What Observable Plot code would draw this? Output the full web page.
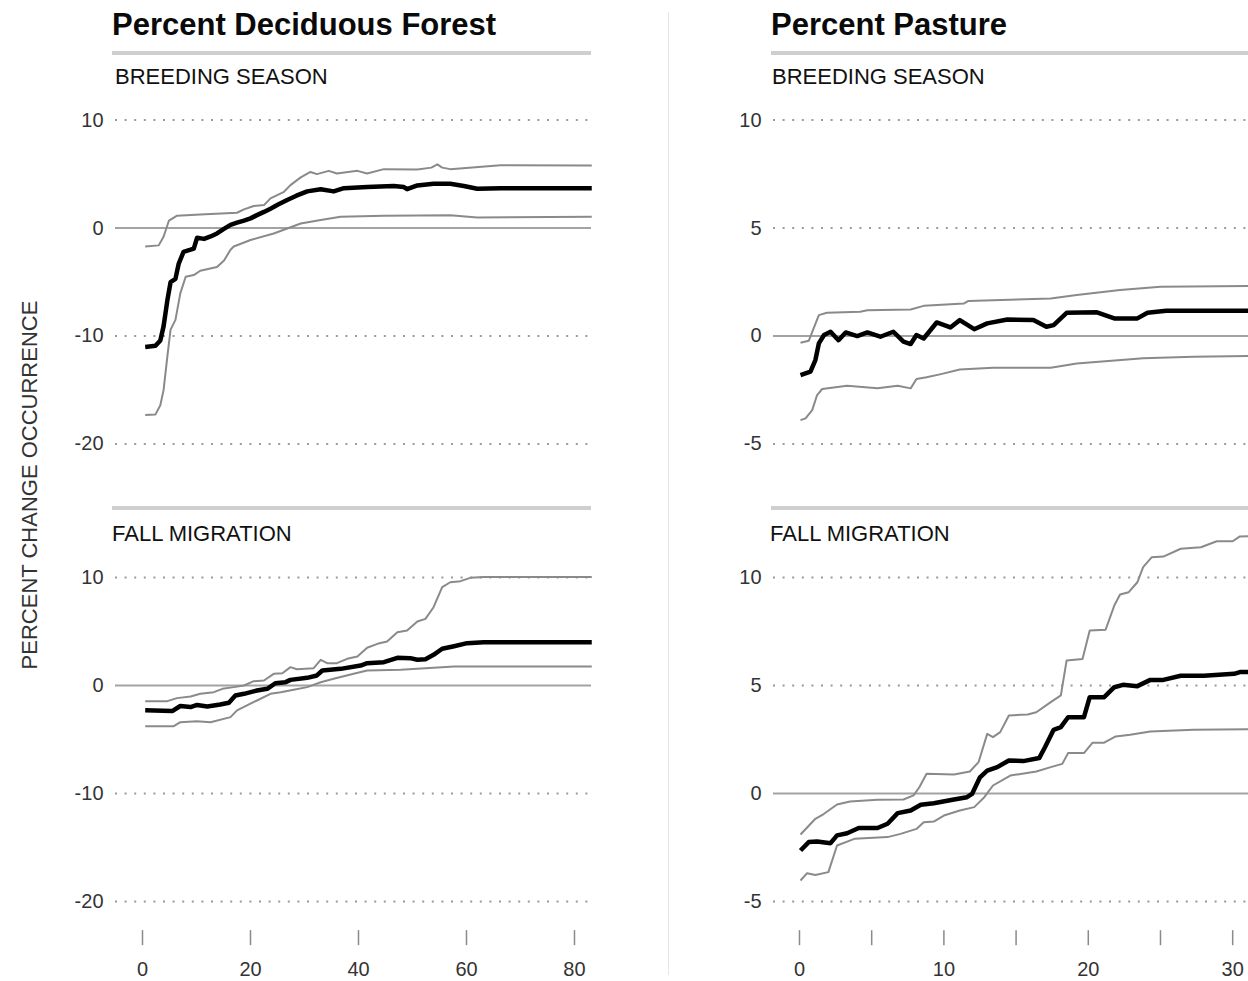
<!DOCTYPE html>
<html>
<head>
<meta charset="utf-8">
<script src="https://cdn.jsdelivr.net/npm/d3@7"></script>
<script src="https://cdn.jsdelivr.net/npm/@observablehq/plot@0.6"></script>
<style>
  html, body { margin: 0; padding: 0; background: #fff; overflow: hidden; }
  #root { position: relative; width: 1248px; height: 981px; overflow: hidden;
          font-family: "Liberation Sans", Arial, Helvetica, sans-serif; color: #111; }
  .abs { position: absolute; }
  .title { font-size: 31px; font-weight: bold; line-height: 31px; white-space: nowrap; color: #0a0a0a; }
  .sub { font-size: 22px; line-height: 22px; white-space: nowrap; color: #111; }
  .rule { height: 4px; background: #cfcfcf; }
  .ytitle { font-size: 22px; line-height: 22px; white-space: nowrap; color: #333;
            transform: translate(-50%, -50%) rotate(-90deg); }
  .sep { width: 1px; background: #e6e6e6; }
  svg { max-width: none !important; }
</style>
</head>
<body>
<div id="root"></div>
<script>
// ---------------- DATA ----------------
const columnTitles = ["Percent Deciduous Forest", "Percent Pasture"];
const seasonLabels = ["BREEDING SEASON", "FALL MIGRATION"];
const yAxisTitle = "PERCENT CHANGE OCCURRENCE";

const forestTicksY = [10, 0, -10, -20];
const forestTicksX = [0, 20, 40, 60, 80];
const pastureTicksY = [10, 5, 0, -5];
const pastureTicksX = [0, 5, 10, 15, 20, 25, 30];

// Percent Deciduous Forest — breeding season  [x, value]
const forestBreedMean = [[0.5,-11.0],[2.4,-10.9],[3.3,-10.4],[3.9,-9.1],[4.6,-6.7],[5.2,-5.0],[6.1,-4.7],[6.7,-3.3],[7.6,-2.2],[8.9,-2.0],[9.5,-1.9],[10.1,-0.9],[11.4,-1.0],[12.5,-0.8],[13.8,-0.5],[15,-0.1],[16.3,0.3],[17.5,0.5],[18.8,0.7],[20,0.9],[21.2,1.2],[22.5,1.5],[23.7,1.8],[25.2,2.2],[26.8,2.6],[28.5,3.0],[30.5,3.4],[33,3.6],[35.4,3.4],[37.3,3.7],[41.6,3.8],[46.5,3.9],[48.4,3.8],[49,3.6],[50.9,3.95],[53.9,4.1],[57,4.1],[59.5,3.9],[62,3.65],[66.3,3.7],[83.2,3.7]];
const forestBreedUpper = [[0.5,-1.7],[3.0,-1.6],[3.9,-0.8],[4.9,0.7],[6.4,1.15],[10.7,1.27],[17.5,1.42],[18.8,1.73],[20.6,2.04],[22.5,2.13],[23.7,2.75],[26.2,3.36],[27.4,3.98],[29.3,4.7],[31.1,5.2],[32.3,5.0],[34.5,5.3],[36,5.06],[39.8,5.3],[41.6,5.06],[44.7,5.46],[50.9,5.43],[53.5,5.6],[54.6,5.9],[55.5,5.6],[57,5.46],[66.3,5.83],[83.2,5.8]];
const forestBreedLower = [[0.5,-17.3],[2.4,-17.25],[3.3,-16.4],[3.9,-15],[4.6,-11.9],[5.2,-9.4],[6.1,-8.5],[7.0,-6.05],[8.0,-4.5],[9.5,-4.35],[10.7,-3.95],[13.8,-3.6],[15.1,-3.0],[16.3,-2.0],[16.9,-1.7],[20,-1.1],[24.3,-0.5],[29.3,0.43],[33,0.74],[36.7,1.05],[44.7,1.14],[57,1.2],[62,0.99],[83.2,1.05]];

// Percent Deciduous Forest — fall migration
const forestFallMean = [[0.5,-2.3],[5.5,-2.37],[7.0,-1.9],[8.9,-2.0],[10.1,-1.8],[12,-1.94],[14.4,-1.76],[16,-1.6],[17.2,-0.93],[18.8,-0.77],[21.2,-0.46],[23.1,-0.31],[24.6,0.21],[26.5,0.31],[27.4,0.52],[30.5,0.71],[32.3,0.93],[33.3,1.39],[36.7,1.54],[40.4,1.85],[41.6,2.07],[44.7,2.16],[47.2,2.56],[49.6,2.53],[50.9,2.38],[52.4,2.44],[53.9,2.84],[55.5,3.4],[57.7,3.64],[60.1,3.92],[63.2,4.0],[83.2,4.0]];
const forestFallUpper = [[0.5,-1.45],[4.6,-1.45],[6.4,-1.17],[8.9,-1.02],[10.7,-0.77],[13.2,-0.62],[14.8,-0.31],[16.9,-0.15],[18.8,0],[20.6,0.4],[22.5,0.46],[24.3,1.08],[25.9,1.14],[27.4,1.7],[28.6,1.51],[31.7,1.6],[33,2.38],[34.2,2.07],[36,2.07],[37.9,2.47],[39.8,2.69],[41.6,3.49],[43.5,3.86],[45.3,4.07],[47.2,4.94],[49,5.1],[50.9,5.93],[52.4,6.17],[53.9,7.25],[55.5,9.1],[57,9.56],[58.9,9.66],[60.7,9.97],[63.2,10.05],[83.2,10.05]];
const forestFallLower = [[0.5,-3.77],[5.8,-3.77],[7.0,-3.4],[10.1,-3.3],[12.6,-3.4],[16.3,-2.93],[17.5,-2.3],[21.2,-1.39],[23.7,-0.77],[25.6,-0.62],[28,-0.4],[30.5,-0.15],[33,0.3],[35.4,0.62],[39.1,1.08],[41.6,1.39],[47.8,1.45],[53.9,1.64],[57.7,1.76],[83.2,1.76]];

// Percent Pasture — breeding season
const pastureBreedMean = [[0.07,-1.81],[0.76,-1.65],[1.1,-1.11],[1.34,-0.34],[1.7,0.05],[2.15,0.2],[2.7,-0.19],[3.2,0.17],[4.0,0],[4.7,0.17],[5.6,-0.03],[6.5,0.2],[7.2,-0.26],[7.7,-0.37],[8.1,0.05],[8.6,-0.11],[9.5,0.63],[10.45,0.4],[11.1,0.74],[12.1,0.32],[13.0,0.59],[14.4,0.77],[16.2,0.74],[17.1,0.43],[17.6,0.51],[18.5,1.08],[20.6,1.1],[21.8,0.82],[23.4,0.82],[24.1,1.08],[25.4,1.17],[33,1.17]];
const pastureBreedUpper = [[0.07,-0.31],[0.64,-0.22],[1.34,0.97],[1.9,1.08],[4.2,1.13],[4.7,1.2],[7.7,1.23],[8.6,1.4],[11.4,1.51],[11.7,1.63],[17.4,1.74],[19.2,1.9],[22.2,2.13],[25,2.28],[33,2.33]];
const pastureBreedLower = [[0.07,-3.89],[0.42,-3.81],[0.88,-3.43],[1.22,-2.73],[1.57,-2.45],[3.3,-2.3],[5.4,-2.42],[6.8,-2.3],[7.7,-2.42],[8.1,-1.99],[8.8,-1.91],[9.8,-1.76],[11.1,-1.55],[13.4,-1.47],[17.4,-1.47],[19.2,-1.27],[23.8,-1.03],[27.3,-0.96],[33,-0.9]];

// Percent Pasture — fall migration
const pastureFallMean = [[0.07,-2.64],[0.64,-2.25],[1.22,-2.22],[2.15,-2.3],[2.6,-1.94],[3.3,-1.84],[4.1,-1.6],[5.4,-1.6],[6.1,-1.4],[6.8,-0.91],[7.7,-0.79],[8.4,-0.52],[9.3,-0.45],[10.7,-0.28],[11.6,-0.17],[11.95,-0.02],[12.5,0.75],[13.0,1.06],[13.7,1.22],[14.5,1.53],[15.5,1.5],[16.6,1.64],[17.0,2.14],[17.6,2.95],[18.1,3.07],[18.6,3.53],[19.7,3.53],[20.1,4.46],[21.1,4.46],[21.8,4.92],[22.4,5.03],[23.4,4.97],[24.3,5.26],[25.2,5.26],[26.4,5.45],[28,5.45],[30.1,5.54],[30.5,5.62],[33,5.65]];
const pastureFallUpper = [[0.07,-1.9],[1.1,-1.17],[1.7,-0.94],[2.6,-0.51],[3.5,-0.37],[5.4,-0.29],[7.2,-0.28],[7.9,-0.09],[8.3,0.29],[8.8,0.91],[10.7,0.88],[11.8,1.02],[12.4,1.45],[13.0,2.76],[13.4,2.61],[13.9,2.84],[14.5,3.61],[15.8,3.66],[16.4,3.76],[17.4,4.23],[18.1,4.54],[18.5,6.16],[19.6,6.23],[20.1,7.55],[21.2,7.58],[21.8,8.7],[22.2,9.21],[22.8,9.32],[23.4,9.78],[23.8,10.48],[24.4,10.94],[25.2,10.97],[26.4,11.33],[27.8,11.4],[28.9,11.68],[30,11.68],[30.5,11.9],[33,11.95]];
const pastureFallLower = [[0.07,-4.03],[0.53,-3.69],[1.1,-3.77],[2.0,-3.64],[2.6,-2.41],[3.8,-2.1],[6.1,-2.02],[7.0,-1.87],[8.1,-1.64],[8.6,-1.33],[9.3,-1.3],[10,-1.02],[11.1,-0.79],[12.1,-0.63],[12.8,-0.17],[13.4,0.37],[14.6,0.83],[16.4,1.02],[17.4,1.22],[18.2,1.37],[18.6,1.87],[19.7,1.87],[20.3,2.35],[21.1,2.35],[21.9,2.64],[22.9,2.72],[24.3,2.87],[27.3,2.95],[33,2.98]];

// ---------------- LAYOUT ----------------
const root = document.getElementById("root");
function div(cls, text, style) {
  const d = document.createElement("div");
  d.className = "abs " + cls;
  if (text != null) d.textContent = text;
  Object.assign(d.style, style);
  root.appendChild(d);
  return d;
}

div("sep", null, {left: "668px", top: "12px", height: "963px"});
div("ytitle", yAxisTitle, {left: "30px", top: "485px"});

const cols = [
  {left: 112, subLeft: [115, 112], ruleW: 479, title: columnTitles[0]},
  {left: 771, subLeft: [772, 770], ruleW: 520, title: columnTitles[1]}
];
cols.forEach(c => {
  div("title", c.title, {left: c.left + "px", top: "9px"});
  div("rule", null, {left: c.left + "px", top: "51px", width: c.ruleW + "px"});
  div("sub", seasonLabels[0], {left: c.subLeft[0] + "px", top: "66px"});
  div("rule", null, {left: c.left + "px", top: "506px", width: c.ruleW + "px"});
  div("sub", seasonLabels[1], {left: c.subLeft[1] + "px", top: "523px"});
});

function panel(opts) {
  const {mean, upper, lower, xDomain, xZero, xPx, yDomain, yPx, yRefVal, yRefPx, yTicks, xTicks, xFmt} = opts;
  const ml = 70, mr = 12, mt = 4, mb = xTicks ? 52 : 4;
  const fl = xZero + xDomain[0] * xPx, fr = xZero + xDomain[1] * xPx;
  const ft = yRefPx - (yDomain[1] - yRefVal) * yPx, fb = yRefPx + (yRefVal - yDomain[0]) * yPx;
  const width = ml + (fr - fl) + mr, height = mt + (fb - ft) + mb;
  const line = (data, stroke, sw) => Plot.line(data, {x: d => d[0], y: d => d[1], stroke, strokeWidth: sw, strokeLinejoin: "round", strokeLinecap: "butt"});
  const marks = [
    Plot.ruleY(yTicks.filter(d => d !== 0), {stroke: "#9a9a9a", strokeWidth: 2, strokeDasharray: "2,7.6"}),
    Plot.ruleY([0], {stroke: "#a3a3a3", strokeWidth: 2}),
    Plot.axisY({ticks: yTicks, tickSize: 0, tickPadding: 12, fontSize: 20, fill: "#333", tickFormat: d => String(d), label: null}),
    line(upper, "#8a8a8a", 2),
    line(lower, "#8a8a8a", 2),
    line(mean, "#000", 4.5)
  ];
  if (xTicks) marks.push(Plot.axisX({ticks: xTicks, tickSize: 15, tickPadding: 16, fontSize: 20,
    stroke: "#8a8a8a", strokeWidth: 1.5, fill: "#333", tickFormat: xFmt, label: null}));
  const svg = Plot.plot({
    width, height,
    marginLeft: ml, marginRight: mr, marginTop: mt, marginBottom: mb,
    x: {domain: xDomain, axis: null},
    y: {domain: yDomain, axis: null},
    style: {fontFamily: '"Liberation Sans", Arial, sans-serif', fontSize: "20px", color: "#333", background: "transparent", overflow: "visible"},
    marks
  });
  svg.style.position = "absolute";
  svg.style.left = (fl - ml) + "px";
  svg.style.top = (ft - mt) + "px";
  root.appendChild(svg);
}

const forestX = {xDomain: [-5, 83.15], xZero: 142, xPx: 5.4};
const pastureX = {xDomain: [-1.8, 33], xZero: 799, xPx: 14.44};

panel({...forestX, mean: forestBreedMean, upper: forestBreedUpper, lower: forestBreedLower,
  yDomain: [-23, 12], yPx: 10.8, yRefVal: 10, yRefPx: 120, yTicks: forestTicksY});
panel({...forestX, mean: forestFallMean, upper: forestFallUpper, lower: forestFallLower,
  yDomain: [-22.7, 12.5], yPx: 10.8, yRefVal: 10, yRefPx: 577, yTicks: forestTicksY,
  xTicks: forestTicksX, xFmt: d => String(d)});
panel({...pastureX, mean: pastureBreedMean, upper: pastureBreedUpper, lower: pastureBreedLower,
  yDomain: [-6.5, 11], yPx: 21.6, yRefVal: 10, yRefPx: 120, yTicks: pastureTicksY});
panel({...pastureX, mean: pastureFallMean, upper: pastureFallUpper, lower: pastureFallLower,
  yDomain: [-6.352, 12.5], yPx: 21.6, yRefVal: 10, yRefPx: 577, yTicks: pastureTicksY,
  xTicks: pastureTicksX, xFmt: d => (d % 10 === 0 ? String(d) : "")});
</script>
</body>
</html>
